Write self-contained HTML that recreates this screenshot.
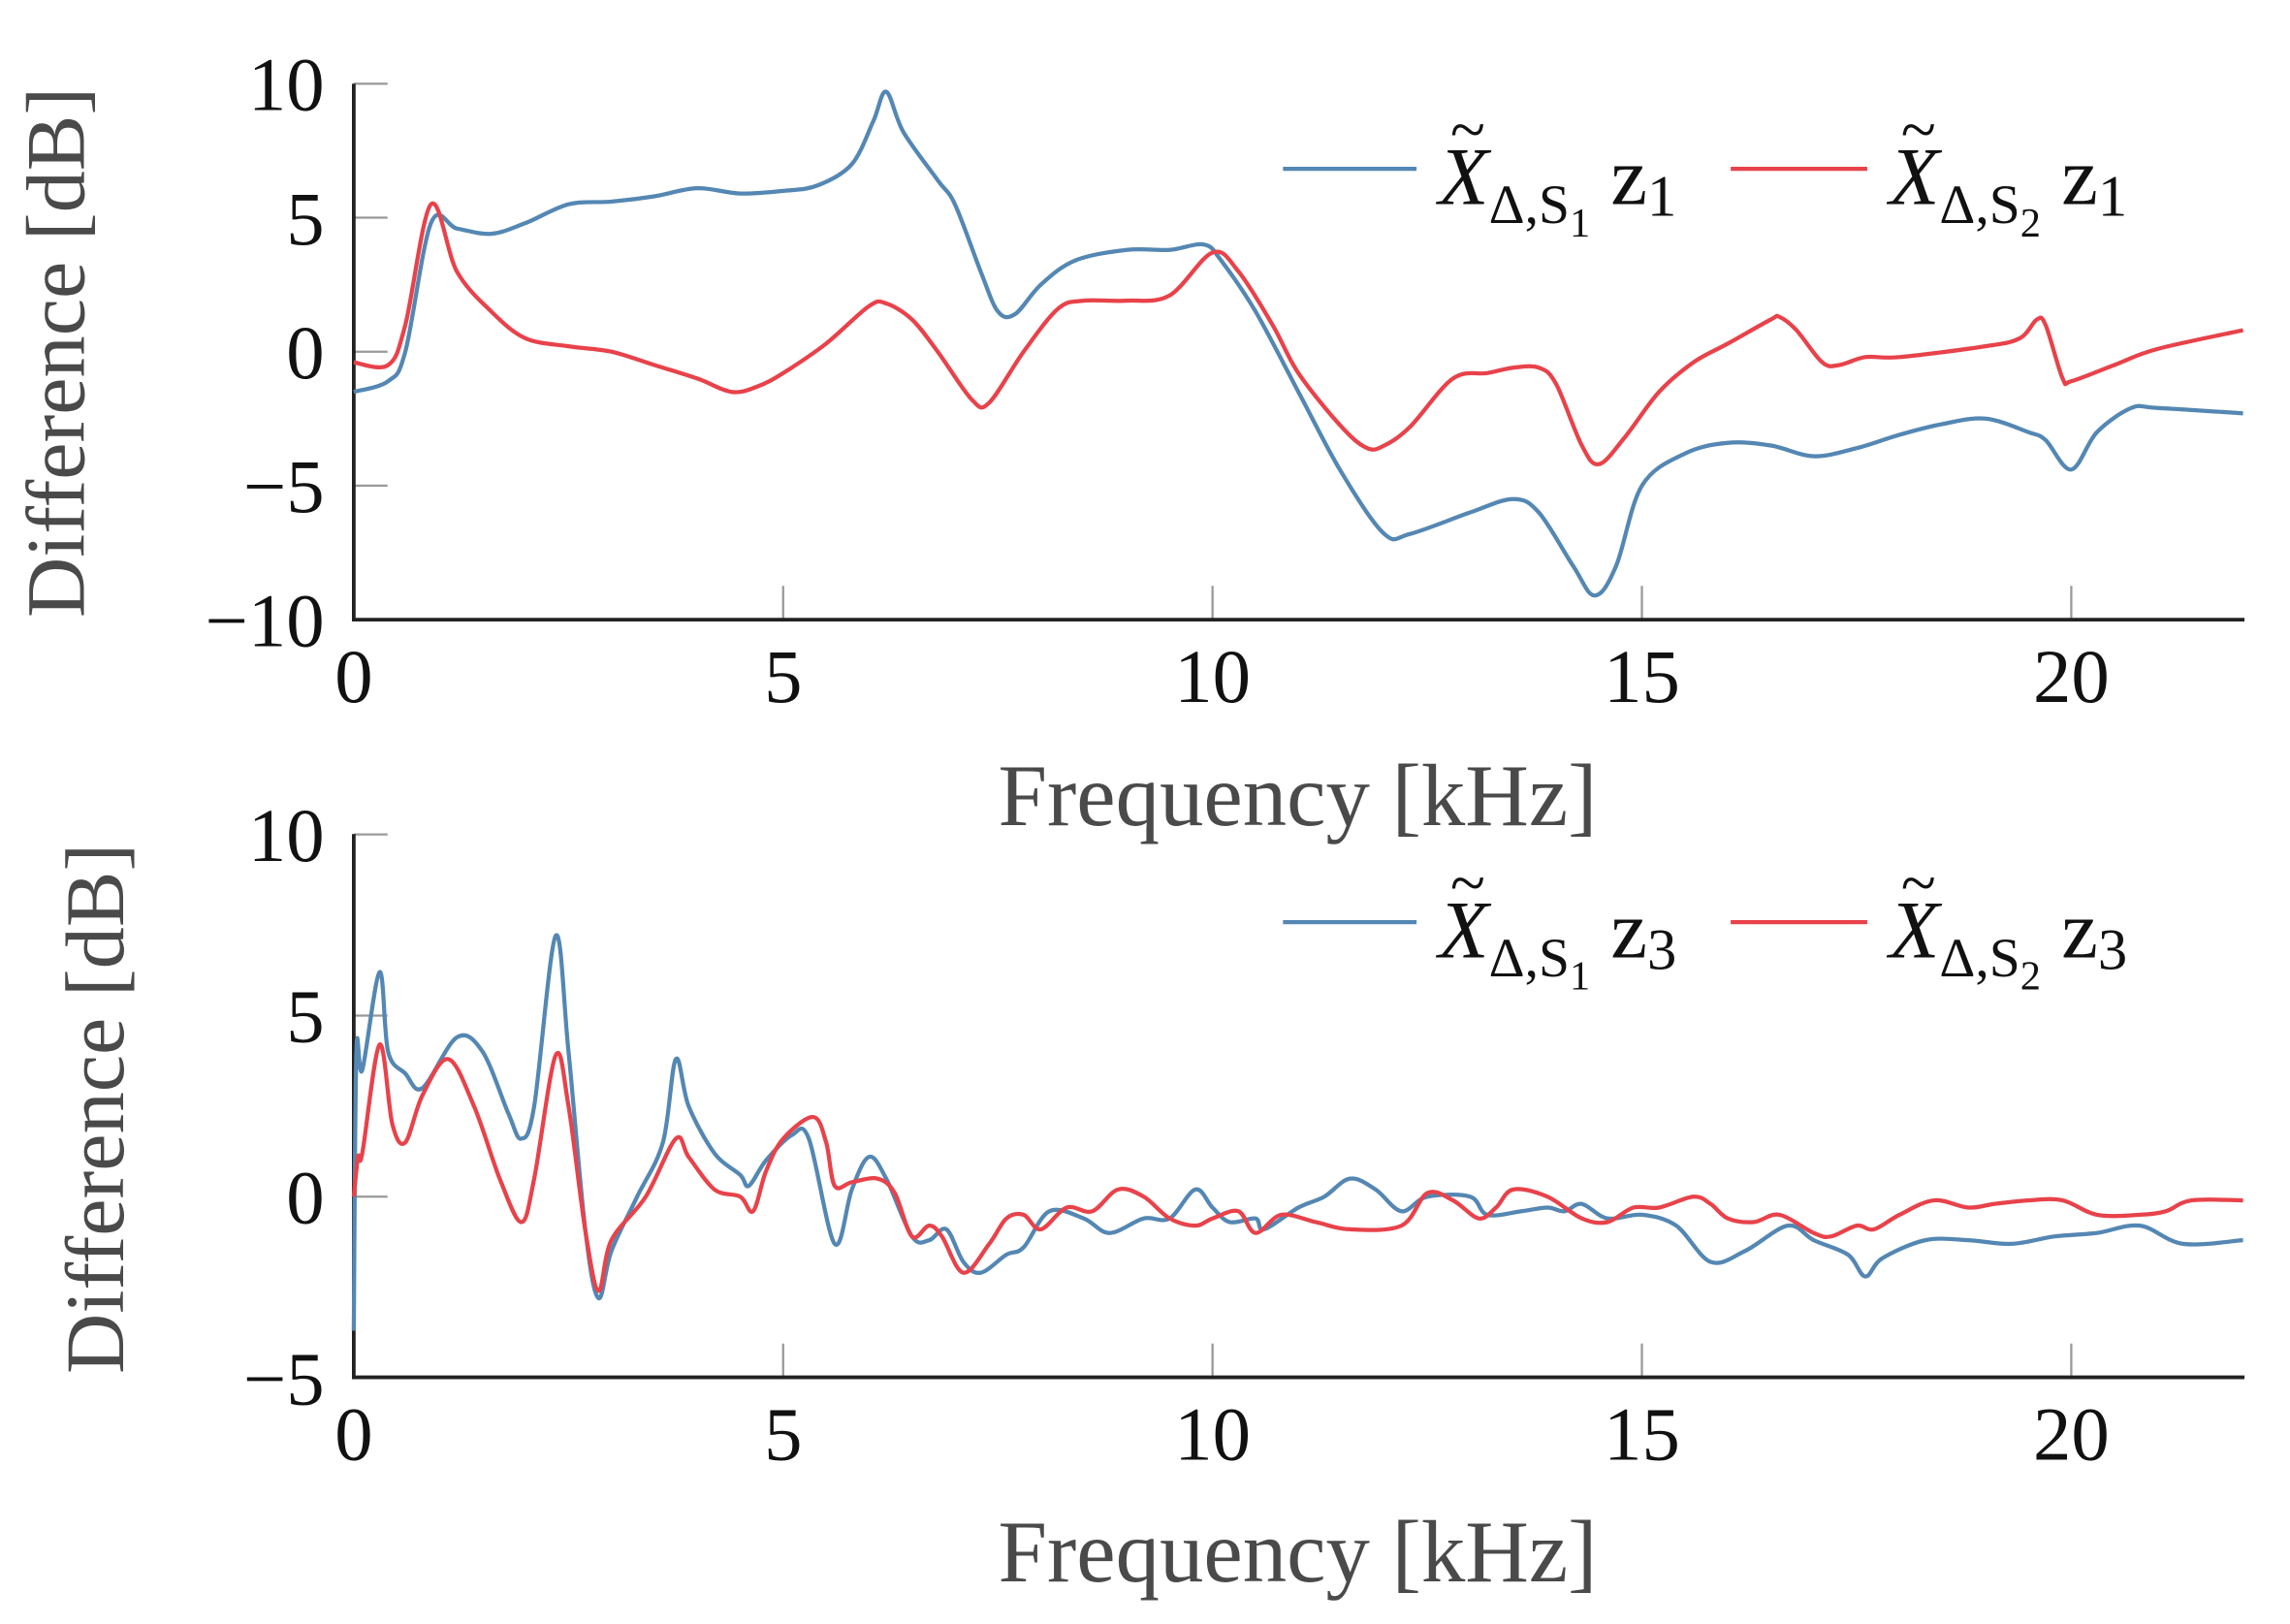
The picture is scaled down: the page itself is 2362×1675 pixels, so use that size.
<!DOCTYPE html>
<html><head><meta charset="utf-8"><style>
html,body{margin:0;padding:0;background:#fff;}
svg{display:block;}
text{font-family:"Liberation Serif",serif;}
</style></head><body>
<svg id="s" width="2362" height="1675" viewBox="0 0 1560 1106" preserveAspectRatio="none" xmlns="http://www.w3.org/2000/svg">
<rect width="1560" height="1106" fill="#fff"/>
<g id="g"></g>
</svg>
<script>
const NS="http://www.w3.org/2000/svg";
const g=document.getElementById('g');
function el(t,a,txt){const e=document.createElementNS(NS,t);for(const k in a)e.setAttribute(k,a[k]);if(txt!==undefined)e.textContent=txt;g.appendChild(e);return e;}
const X0=241,XS=58.5,XEND=1529;
function px(f){return X0+f*XS;}
function path(pts,mapY,color){
  const P=pts.map(p=>[px(p[0]),mapY(p[1])]);
  let d="M"+P[0][0].toFixed(1)+","+P[0][1].toFixed(1);
  for(let i=0;i<P.length-1;i++){
    const p0=P[Math.max(0,i-1)],p1=P[i],p2=P[i+1],p3=P[Math.min(P.length-1,i+2)];
    const c1=[p1[0]+(p2[0]-p0[0])/6,p1[1]+(p2[1]-p0[1])/6];
    const c2=[p2[0]-(p3[0]-p1[0])/6,p2[1]-(p3[1]-p1[1])/6];
    d+=" C"+c1.map(v=>v.toFixed(1))+" "+c2.map(v=>v.toFixed(1))+" "+p2.map(v=>v.toFixed(1));
  }
  el('path',{d:d,fill:'none',stroke:color,'stroke-width':2.8,'stroke-linejoin':'round'});
}
function parse(s){return s.trim().split(/,\s*/).map(t=>t.split(':').map(Number));}
const BLUE="#5487b3",RED="#e8424a";
function axes(yTop,yBot,yticks,mapY,xlabY,ylabX,ylabY){
  [5,10,15,20].forEach(f=>el('line',{x1:px(f),x2:px(f),y1:yBot,y2:yBot-23,stroke:'#999','stroke-width':1.5}));
  yticks.forEach(v=>el('line',{x1:X0,x2:X0+23,y1:mapY(v),y2:mapY(v),stroke:'#999','stroke-width':1.5}));
  el('path',{d:`M${X0},${yTop} L${X0},${yBot} L${XEND},${yBot}`,fill:'none',stroke:'#222','stroke-width':2.5});
  [0,5,10,15,20].forEach(f=>el('text',{x:px(f),y:yBot+56,'text-anchor':'middle','font-size':52,fill:'#111'},String(f)));
  yticks.forEach(v=>el('text',{x:221,y:mapY(v)+18,'text-anchor':'end','font-size':52,fill:'#111'},v<0?"\u2212"+(-v):String(v)));
  el('text',{x:884,y:xlabY,'text-anchor':'middle','font-size':60,fill:'#4a4a4a'},'Frequency [kHz]');
  el('text',{x:0,y:0,'text-anchor':'middle','font-size':57,fill:'#4a4a4a',transform:`translate(${ylabX},${ylabY}) rotate(-90)`},'Difference [dB]');
}
function legend(y,z){
  el('line',{x1:874,x2:965,y1:y,y2:y,stroke:BLUE,'stroke-width':2.8});
  el('line',{x1:1179,x2:1272,y1:y,y2:y,stroke:RED,'stroke-width':2.8});
  [[980,'1'],[1287,'2']].forEach(([x,s])=>{
    const t=el('text',{x:x,y:y+24,'font-size':56,fill:'#111'});
    t.innerHTML=`<tspan font-style="italic">X</tspan><tspan dy="13" font-size="38">\u0394,S</tspan><tspan dy="9" font-size="28">${s}</tspan><tspan dy="-22" dx="14">z</tspan><tspan dy="8" font-size="40">${z}</tspan>`;
    el('text',{x:x+8,y:y-12,'font-size':44,fill:'#111'},'~');
  });
}
const t0=239.5,ts=18.25;const mapT=v=>t0-v*ts;
axes(57,422,[10,5,0,-5,-10],mapT,562,57,240);
path(parse("0:-1.5,0.4:-1.1,0.6:0,0.9:4.8,1.2:4.6,1.6:4.4,2:4.8,2.5:5.5,3:5.6,3.5:5.8,4:6.1,4.5:5.9,5:6,5.4:6.2,5.8:7,6.05:8.6,6.2:9.7,6.4:8.2,6.8:6.4,7:5.5,7.3:3,7.5:1.5,7.7:1.4,8:2.5,8.4:3.4,9:3.8,9.5:3.8,9.9:4,10.1:3.4,10.5:1.5,11:-1.5,11.5:-4.5,12:-6.8,12.3:-6.8,13:-6,13.5:-5.5,13.8:-6,14.2:-8,14.45:-9.1,14.7:-8,15:-5,15.5:-3.8,16:-3.4,16.5:-3.5,17:-3.9,17.5:-3.6,18:-3.1,18.5:-2.7,19:-2.5,19.5:-3,19.7:-3.3,20:-4.4,20.3:-3,20.7:-2.1,21:-2.1,22:-2.3"),mapT,BLUE);
path(parse("0:-0.4,0.4:-0.5,0.6:1,0.9:5.5,1.2:3,1.6:1.5,2:0.5,2.5:0.2,3:0,3.5:-0.5,4:-1,4.4:-1.5,4.7:-1.3,5:-0.8,5.5:0.3,6:1.7,6.2:1.8,6.5:1.2,6.8:0,7.2:-1.8,7.4:-1.9,7.8:0,8.2:1.6,8.5:1.9,9:1.9,9.5:2.1,10:3.7,10.3:3,10.7:1,11:-0.8,11.5:-2.8,11.8:-3.6,12:-3.5,12.3:-2.8,12.8:-1,13.2:-0.8,13.5:-0.6,13.8:-0.6,14:-1.2,14.3:-3.5,14.5:-4.2,14.8:-3.2,15.2:-1.5,15.6:-0.4,16:0.3,16.5:1.2,16.6:1.3,16.8:0.8,17.1:-0.4,17.3:-0.5,17.6:-0.2,18:-0.2,19:0.2,19.4:0.5,19.6:1.2,19.7:1,19.9:-1,20:-1.1,20.5:-0.5,21:0.1,22:0.8"),mapT,RED);
legend(115,'1');
const b0=815,bs=24.67;const mapB=v=>b0-v*bs;
axes(568,938,[10,5,0,-5],mapB,1077,84,755);
path(parse("0:-3.7,0.03:4,0.1:3.5,0.3:6.2,0.4:4,0.6:3.4,0.8:3.0,1.2:4.4,1.5:4,1.8:2.3,1.95:1.6,2.1:2.5,2.35:7.2,2.5:4,2.7:-1,2.85:-2.8,3:-1.5,3.3:0,3.6:1.5,3.75:3.8,3.9:2.5,4.2:1.2,4.5:0.6,4.6:0.3,4.8:1,5.1:1.7,5.3:1.6,5.6:-1.3,5.8:0.2,6:1.1,6.2:0.5,6.5:-1.1,6.7:-1.2,6.9:-0.9,7.1:-1.8,7.3:-2.1,7.6:-1.6,7.8:-1.4,8.1:-0.4,8.5:-0.6,8.8:-1,9.2:-0.6,9.5:-0.6,9.8:0.2,10:-0.3,10.2:-0.7,10.5:-0.6,10.6:-0.9,11:-0.3,11.3:0,11.6:0.5,11.9:0.2,12.2:-0.4,12.5:0,13:0,13.2:-0.5,13.6:-0.4,13.9:-0.3,14.1:-0.4,14.3:-0.2,14.6:-0.6,15:-0.5,15.4:-0.8,15.8:-1.8,16.2:-1.5,16.7:-0.8,17:-1.2,17.4:-1.6,17.6:-2.2,17.8:-1.7,18.3:-1.2,18.8:-1.2,19.3:-1.3,19.8:-1.1,20.3:-1.0,20.8:-0.8,21.3:-1.3,22:-1.2"),mapB,BLUE);
path(parse("0:0,0.05:1.1,0.1:1.2,0.3:4.2,0.45:2,0.6:1.5,0.8:2.8,1.1:3.8,1.4:2.5,1.7:0.5,1.95:-0.7,2.1:0.5,2.35:3.9,2.5:2.5,2.7:-1,2.85:-2.6,3:-1.2,3.4:0,3.75:1.6,3.9:1.1,4.2:0.2,4.5:0,4.65:-0.4,4.8:0.7,5:1.6,5.35:2.2,5.5:1.5,5.6:0.3,5.8:0.4,6.1:0.5,6.3:0.1,6.5:-1.1,6.7:-0.8,6.85:-1.1,7.1:-2.1,7.4:-1.3,7.6:-0.6,7.8:-0.5,8:-0.9,8.3:-0.3,8.6:-0.4,8.9:0.2,9.2:0,9.5:-0.6,9.8:-0.8,10:-0.6,10.3:-0.4,10.5:-1,10.8:-0.5,11.2:-0.7,11.6:-0.9,12.2:-0.8,12.5:0.1,12.8:-0.1,13.1:-0.6,13.3:-0.3,13.5:0.2,13.9:0,14.3:-0.6,14.6:-0.7,14.9:-0.3,15.2:-0.3,15.6:0,15.8:-0.2,16:-0.6,16.3:-0.7,16.6:-0.5,17:-1,17.2:-1.1,17.5:-0.8,17.7:-0.9,18:-0.5,18.4:-0.1,18.8:-0.3,19.1:-0.2,19.5:-0.1,19.9:-0.1,20.3:-0.5,20.8:-0.5,21.1:-0.4,21.4:-0.1,22:-0.1"),mapB,RED);
legend(628,'3');
</script>
</body></html>
